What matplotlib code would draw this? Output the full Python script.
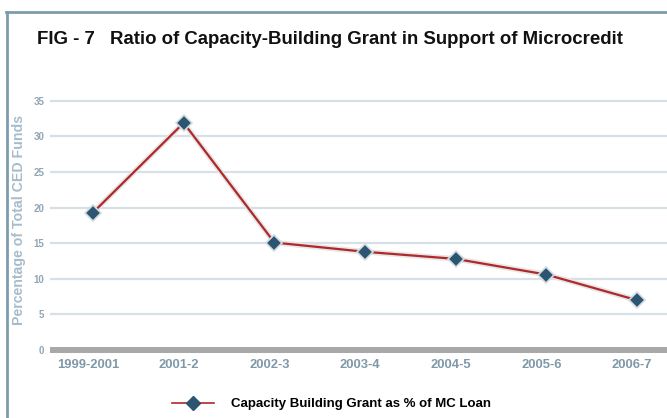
import matplotlib
matplotlib.use("Agg")
import matplotlib.pyplot as plt
import matplotlib.patheffects as pe
from matplotlib.lines import Line2D

# Capacity-building grant as a share of microcredit loans, by period
periods = ["1999-2001", "2001-2", "2002-3", "2003-4", "2004-5", "2005-6", "2006-7"]
grant_pct = [19.3, 31.9, 15.1, 13.8, 12.8, 10.6, 7.0]
y_ticks = [0, 5, 10, 15, 20, 25, 30, 35]

plt.rcParams["font.family"] = ["Liberation Sans", "DejaVu Sans"]

W, H = 667, 418
fig = plt.figure(figsize=(W / 100, H / 100), dpi=100)
fig.patch.set_facecolor("white")

ax = fig.add_axes([50 / W, 0.154, 1 - 50 / W, 0.6134])
ax.set_xlim(-0.474, 6.33)
ax.set_ylim(-0.5, 35.5)
for s in ax.spines.values():
    s.set_visible(False)

# horizontal grid
for v in y_ticks[1:]:
    ax.axhline(v, color="#d6e0e5", lw=1.6, zorder=1)
# heavy baseline
ax.axhline(0, color="#a8a8a8", lw=4.3, zorder=1, solid_capstyle="butt")

x = list(range(len(periods)))
line_color = "#b0282a"
marker_color = "#2c5571"
ax.plot(x, grant_pct, color=line_color, lw=1.6, zorder=3,
        path_effects=[pe.Stroke(linewidth=4.0, foreground="#e6e6e6"), pe.Normal()])
ax.plot(x, grant_pct, ls="none", marker="D", ms=8, mfc=marker_color,
        mec="#d3dbe0", mew=1.2, zorder=4)

# category labels sit slightly left of the markers
label_offset = -0.055
ax.set_xticks([i + label_offset for i in x])
ax.set_xticklabels(periods, fontsize=9.4, fontweight="bold", color="#7f98a8")
ax.set_yticks(y_ticks)
ax.set_yticklabels([str(v) for v in y_ticks], fontsize=7, fontweight="bold",
                   color="#91a6b3")
ax.tick_params(axis="both", length=0)
ax.tick_params(axis="x", pad=4)
ax.tick_params(axis="y", pad=4)

fig.text(19 / W, 1 - 220 / H, "Percentage of Total CED Funds", rotation=90,
         ha="center", va="center", fontsize=10.2, fontweight="bold", color="#a7bccb")

title_kw = dict(ha="left", va="center", fontsize=13.4, fontweight="bold",
                color="#111111")
fig.text(37 / W, 1 - 40 / H, "FIG - 7", **title_kw)
fig.text(110 / W, 1 - 40 / H,
         "Ratio of Capacity-Building Grant in Support of Microcredit", **title_kw)

# frame edges along the top and left
fig.add_artist(Line2D([6 / W, 1], [1 - 11.5 / H] * 2, transform=fig.transFigure,
                      color="#7d9cab", lw=2))
fig.add_artist(Line2D([7 / W] * 2, [0, 1 - 11.5 / H], transform=fig.transFigure,
                      color="#7d9cab", lw=2))

handle = Line2D([], [], color=line_color, lw=1.2, marker="D", ms=7,
                mfc=marker_color, mec=marker_color)
fig.legend([handle], ["Capacity Building Grant as % of MC Loan"],
           loc="center left", bbox_to_anchor=(172 / W, 1 - 404 / H),
           frameon=False, handlelength=3.2, handletextpad=1.3,
           borderpad=0, borderaxespad=0,
           prop={"weight": "bold", "size": 9.5})

fig.savefig("out.png", dpi=100, facecolor="white")
